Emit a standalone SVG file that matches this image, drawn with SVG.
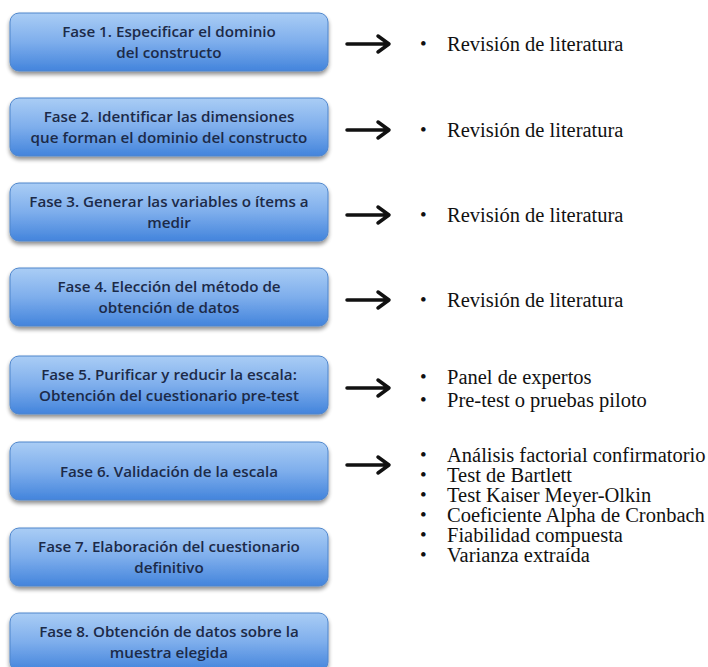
<svg xmlns="http://www.w3.org/2000/svg" width="708" height="667" viewBox="0 0 708 667">
<defs>
<linearGradient id="g" x1="0" y1="0" x2="0" y2="1">
<stop offset="0" stop-color="#aacdf5"/>
<stop offset="0.5" stop-color="#7eaeec"/>
<stop offset="1" stop-color="#4384dc"/>
</linearGradient>
<filter id="sh" x="-10%" y="-20%" width="120%" height="150%">
<feGaussianBlur in="SourceAlpha" stdDeviation="2"/>
<feOffset dx="0" dy="3"/>
<feComponentTransfer><feFuncA type="linear" slope="0.45"/></feComponentTransfer>
<feMerge><feMergeNode/><feMergeNode in="SourceGraphic"/></feMerge>
</filter>
</defs>
<style>
.box{fill:url(#g);stroke:#4f86cc;stroke-width:1;filter:url(#sh)}
.bt{font-family:"Open Sans","Liberation Sans",sans-serif;font-size:15.2px;font-weight:600;fill:#1c2a48;text-anchor:middle}
.rt{font-family:"Liberation Serif",serif;font-size:20.5px;fill:#111}
.bu{font-family:"Liberation Serif",serif;font-size:19px;fill:#111}
.ar{stroke:#111;stroke-width:3.5;fill:none;stroke-linecap:round;stroke-linejoin:round}
</style>
<rect width="708" height="667" fill="#fff"/>
<g id="n1"><rect class="box" x="10" y="13" width="318" height="58" rx="9"/><text class="bt" x="169" y="37">Fase 1. Especificar el dominio</text><text class="bt" x="169" y="58">del constructo</text></g>
<g id="n2"><rect class="box" x="10" y="98" width="318" height="58" rx="9"/><text class="bt" x="169" y="122">Fase 2. Identificar las dimensiones</text><text class="bt" x="169" y="143">que forman el dominio del constructo</text></g>
<g id="n3"><rect class="box" x="10" y="183" width="318" height="58" rx="9"/><text class="bt" x="169" y="207">Fase 3. Generar las variables o ítems a</text><text class="bt" x="169" y="228">medir</text></g>
<g id="n4"><rect class="box" x="10" y="268" width="318" height="58" rx="9"/><text class="bt" x="169" y="292">Fase 4. Elección del método de</text><text class="bt" x="169" y="313">obtención de datos</text></g>
<g id="n5"><rect class="box" x="10" y="356" width="318" height="58" rx="9"/><text class="bt" x="169" y="380">Fase 5. Purificar y reducir la escala:</text><text class="bt" x="169" y="401">Obtención del cuestionario pre-test</text></g>
<g id="n6"><rect class="box" x="10" y="442" width="318" height="58" rx="9"/><text class="bt" x="169" y="477">Fase 6. Validación de la escala</text></g>
<g id="n7"><rect class="box" x="10" y="528" width="318" height="58" rx="9"/><text class="bt" x="169" y="552">Fase 7. Elaboración del cuestionario</text><text class="bt" x="169" y="573">definitivo</text></g>
<g id="n8"><rect class="box" x="10" y="613" width="318" height="58" rx="9"/><text class="bt" x="169" y="637">Fase 8. Obtención de datos sobre la</text><text class="bt" x="169" y="658">muestra elegida</text></g>
<g id="connectors">
<path class="ar" d="M347 44H389M378 36L389 44L378 52"/>
<path class="ar" d="M347 130H389M378 122L389 130L378 138"/>
<path class="ar" d="M347 215H389M378 207L389 215L378 223"/>
<path class="ar" d="M347 300H389M378 292L389 300L378 308"/>
<path class="ar" d="M347 388H389M378 380L389 388L378 396"/>
<path class="ar" d="M347 465H389M378 457L389 465L378 473"/>
</g>
<g id="lists">
<text class="bu" x="420" y="50">•</text><text class="rt" x="447" y="51">Revisión de literatura</text>
<text class="bu" x="420" y="136">•</text><text class="rt" x="447" y="137">Revisión de literatura</text>
<text class="bu" x="420" y="221">•</text><text class="rt" x="447" y="222">Revisión de literatura</text>
<text class="bu" x="420" y="306">•</text><text class="rt" x="447" y="307">Revisión de literatura</text>
<text class="bu" x="420" y="383">•</text><text class="rt" x="447" y="384">Panel de expertos</text>
<text class="bu" x="420" y="406">•</text><text class="rt" x="447" y="407">Pre-test o pruebas piloto</text>
<text class="bu" x="420" y="461">•</text><text class="rt" x="447" y="462">Análisis factorial confirmatorio</text>
<text class="bu" x="420" y="481">•</text><text class="rt" x="447" y="482">Test de Bartlett</text>
<text class="bu" x="420" y="501">•</text><text class="rt" x="447" y="502">Test Kaiser Meyer-Olkin</text>
<text class="bu" x="420" y="521">•</text><text class="rt" x="447" y="522">Coeficiente Alpha de Cronbach</text>
<text class="bu" x="420" y="541">•</text><text class="rt" x="447" y="542">Fiabilidad compuesta</text>
<text class="bu" x="420" y="561">•</text><text class="rt" x="447" y="562">Varianza extraída</text>
</g>
</svg>
